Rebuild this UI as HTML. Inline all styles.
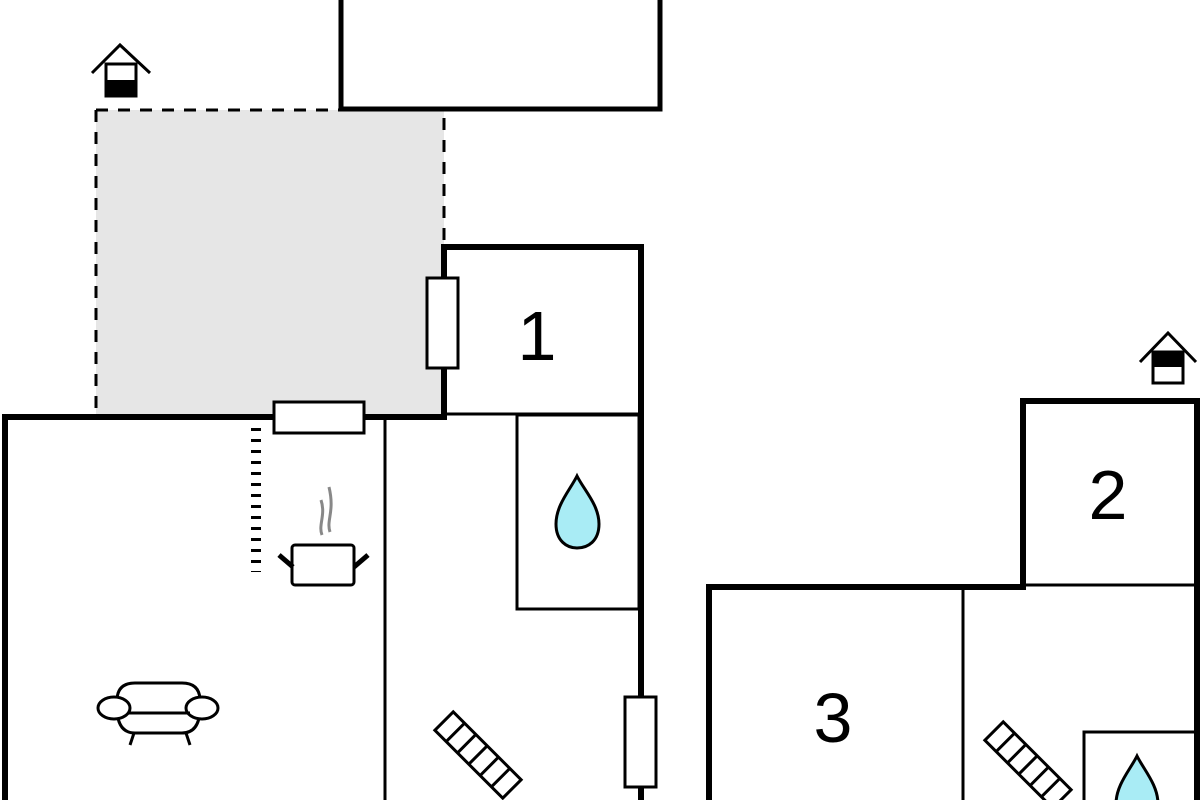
<!DOCTYPE html>
<html><head><style>html,body{margin:0;padding:0;background:#fff}svg{display:block}text{font-family:"Liberation Sans",sans-serif}</style></head>
<body>
<svg width="1200" height="800" viewBox="0 0 1200 800" xmlns="http://www.w3.org/2000/svg">
<!-- gray terrace -->
<rect x="96" y="110" width="348" height="304" fill="#e6e6e6"/>
<path d="M96 110 H340 M96 110 V412 M444 118 V247" stroke="#000" stroke-width="3" stroke-dasharray="12,10" fill="none"/>
<!-- top box -->
<path d="M341 0 V109 H660 V0" stroke="#000" stroke-width="5" fill="none"/>
<!-- house icon 1 -->
<path d="M92 73 L120 45 L150 73" stroke="#000" stroke-width="3" fill="none"/>
<rect x="106" y="64" width="30" height="32" fill="#fff" stroke="#000" stroke-width="3"/>
<rect x="106" y="80" width="30" height="17" fill="#000"/>
<!-- house icon 2 -->
<path d="M1140 362 L1168 333 L1196 362" stroke="#000" stroke-width="3" fill="none"/>
<rect x="1153" y="352" width="30" height="31" fill="#fff" stroke="#000" stroke-width="3"/>
<rect x="1153" y="351" width="30" height="16" fill="#000"/>
<!-- left building walls -->
<path d="M5 800 V417 H444 V247 H641 V800" stroke="#000" stroke-width="6" fill="none"/>
<path d="M444 414 H641 M385 417 V800" stroke="#000" stroke-width="3" fill="none"/>
<rect x="517" y="415" width="122" height="194" fill="none" stroke="#000" stroke-width="3"/>
<!-- doors -->
<rect x="427" y="278" width="31" height="90" fill="#fff" stroke="#000" stroke-width="3"/>
<rect x="274" y="402" width="90" height="31" fill="#fff" stroke="#000" stroke-width="3"/>
<rect x="625" y="697" width="31" height="90" fill="#fff" stroke="#000" stroke-width="3"/>
<!-- labels -->
<text x="537" y="360" font-size="70" text-anchor="middle">1</text>
<text x="1108" y="519" font-size="70" text-anchor="middle">2</text>
<text x="833" y="742" font-size="70" text-anchor="middle">3</text>
<!-- drops -->
<path d="M577 476 C570 490 556 505 556 524 C556 541 567 548 577 548 C588 548 599 541 599 524 C599 505 584 490 577 476 Z" fill="#a9ecf5" stroke="#000" stroke-width="3"/>
<path d="M1137 756 C1130 770 1116 785 1116 804 L1158 804 C1158 785 1144 770 1137 756 Z" fill="#a9ecf5" stroke="#000" stroke-width="3"/>
<!-- dotted line -->
<path d="M256 428 V572" stroke="#000" stroke-width="10" stroke-dasharray="3,8" fill="none"/>
<!-- pot -->
<path d="M322 535 C318 525 326 515 321 500 M330 532 C326 520 335 512 329 487" stroke="#888" stroke-width="3" fill="none"/>
<rect x="292" y="545" width="62" height="40" rx="3" fill="#fff" stroke="#000" stroke-width="3"/>
<path d="M279 555 L293 567 M368 555 L354 567" stroke="#000" stroke-width="5"/>
<!-- sofa -->
<g stroke="#000" stroke-width="3" fill="#fff">
<path d="M130 745 L134 733 M190 745 L186 733"/>
<path d="M117 699 Q118 683 135 683 H182 Q199 683 200 699 V710 Q199 733 182 733 H135 Q118 733 117 710 Z"/>
<ellipse cx="114" cy="708" rx="16" ry="11"/>
<ellipse cx="202" cy="708" rx="16" ry="11"/>
<path d="M128 713 H190" fill="none"/>
</g>
<!-- stairs left -->
<g transform="translate(478,755) rotate(45)" stroke="#000" stroke-width="3" fill="#fff">
<rect x="-48" y="-13" width="96" height="26"/>
<path d="M-32 -13 V13 M-16 -13 V13 M0 -13 V13 M16 -13 V13 M32 -13 V13"/>
</g>
<!-- right building -->
<path d="M709 800 V587 H1023 V401 H1197 V800" stroke="#000" stroke-width="6" fill="none"/>
<path d="M1023 585 H1197 M963 588 V800" stroke="#000" stroke-width="3" fill="none"/>
<rect x="1084" y="732" width="112" height="80" fill="none" stroke="#000" stroke-width="3"/>
<g transform="translate(1028,765) rotate(45)" stroke="#000" stroke-width="3" fill="#fff">
<rect x="-48" y="-13" width="96" height="26"/>
<path d="M-32 -13 V13 M-16 -13 V13 M0 -13 V13 M16 -13 V13 M32 -13 V13"/>
</g>
</svg>
</body></html>
